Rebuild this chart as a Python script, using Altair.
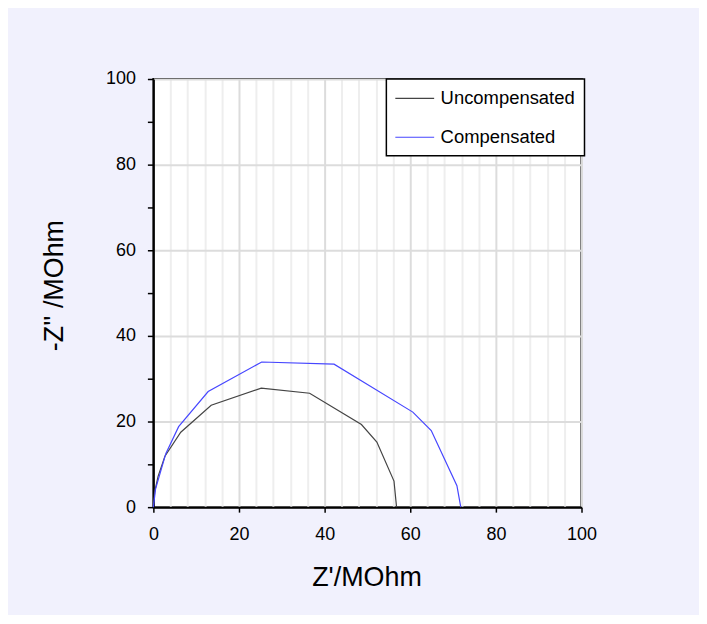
import altair as alt
import pandas as pd

# Uncompensated series
unc_x = [0.0, 0.3, 1.1, 2.7, 6.4, 13.5, 25.2, 36.5, 48.6, 52.2, 56.2, 56.8]
unc_y = [0.0, 3.5, 7.2, 11.9, 17.5, 23.8, 27.8, 26.6, 19.3, 15.2, 6.1, 0.0]
# Compensated series
cmp_x = [0.0, 0.5, 2.9, 5.9, 12.8, 25.3, 42.2, 60.6, 64.9, 70.9, 71.8]
cmp_y = [0.0, 4.2, 12.5, 18.8, 27.0, 33.9, 33.4, 22.2, 17.9, 5.0, 0.0]

series_names = ["Uncompensated", "Compensated"]
series_colors = ["#444444", "#4646ff"]

x_ticks = list(range(0, 101, 4))
y_ticks = list(range(0, 101, 10))

rows = []
for i, (x, y) in enumerate(zip(unc_x, unc_y)):
    rows.append({"series": "Uncompensated", "order": i, "zr": x, "zi": y})
for i, (x, y) in enumerate(zip(cmp_x, cmp_y)):
    rows.append({"series": "Compensated", "order": i, "zr": x, "zi": y})
df = pd.DataFrame(rows)

font = "Liberation Sans"

chart = alt.Chart(df).mark_line(strokeWidth=1.2).encode(
    x=alt.X(
        "zr:Q",
        scale=alt.Scale(domain=[0, 100], nice=False, zero=False),
        axis=alt.Axis(
            title="Z'/MOhm",
            values=x_ticks,
            labelExpr="datum.value % 20 === 0 ? datum.label : ''",
            gridColor=alt.condition("datum.value % 20 === 0", alt.value("#dcdcdc"), alt.value("#eeeeee")),
            gridWidth=2,
            tickOpacity=alt.condition("datum.value % 20 === 0", alt.value(1), alt.value(0)),
            tickSize=5,
            tickWidth=1.5,
            tickColor="black",
            domainColor="black",
            domainWidth=2,
            labelFont=font,
            labelFontSize=18,
            labelColor="black",
            labelPadding=13,
            labelFlush=False,
            titleFont=font,
            titleFontSize=27,
            titleFontWeight="normal",
            titleColor="black",
            titleX=214,
            titleY=79,
            titleAlign="center",
            titleBaseline="alphabetic",
        ),
    ),
    y=alt.Y(
        "zi:Q",
        scale=alt.Scale(domain=[0, 100], nice=False, zero=False),
        axis=alt.Axis(
            title="-Z'' /MOhm",
            values=y_ticks,
            labelExpr="datum.value % 20 === 0 ? datum.label : ''",
            gridColor="#dcdcdc",
            gridWidth=2,
            gridOpacity=alt.condition("datum.value % 20 === 0", alt.value(1), alt.value(0)),
            tickSize=6,
            tickWidth=1.5,
            tickColor="black",
            domainColor="black",
            domainWidth=2,
            labelFont=font,
            labelFontSize=18,
            labelColor="black",
            labelPadding=12,
            labelFlush=False,
            titleFont=font,
            titleFontSize=27,
            titleFontWeight="normal",
            titleColor="black",
            titleX=-91,
            titleY=207,
            titleAngle=270,
            titleAlign="center",
            titleBaseline="alphabetic",
        ),
    ),
    color=alt.Color(
        "series:N",
        scale=alt.Scale(domain=series_names, range=series_colors),
        legend=alt.Legend(
            title=None,
            orient="none",
            legendX=234,
            legendY=0,
            symbolType="M-2,0H2",
            symbolSize=380,
            symbolOffset=9,
            symbolStrokeWidth=1.2,
            symbolFillColor="transparent",
            labelFont=font,
            labelFontSize=18.5,
            labelColor="black",
            labelOffset=15.5,
            rowPadding=19,
            padding=9,
            strokeColor="black",
            fillColor="white",
        ),
    ),
    order="order:Q",
).properties(
    width=430,
    height=430,
    background="#f1f1fd",
    padding={"left": 146, "top": 70, "right": 118, "bottom": 107},
    autosize=alt.AutoSizeParams(type="none"),
).configure_view(
    stroke="black",
    strokeWidth=2,
    fill="white",
).configure_legend(
    strokeWidth=1.5,
)

chart.save("out.html", embed_options={"renderer": "svg", "actions": False})
